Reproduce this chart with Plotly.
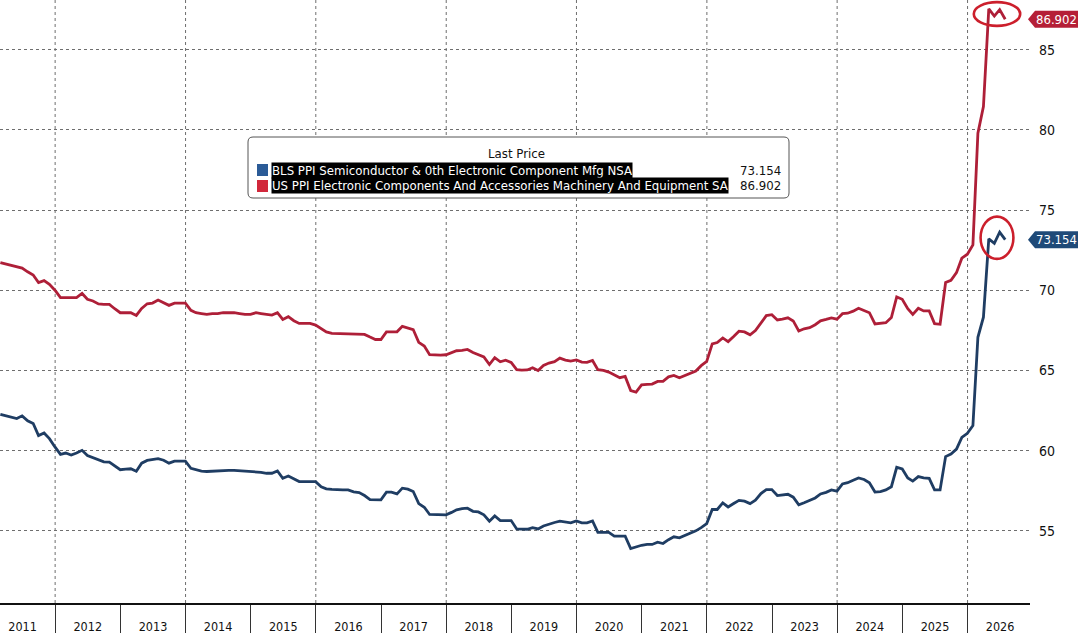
import pandas as pd
import plotly.graph_objects as go

# ---------------- data ----------------
dates = pd.date_range("2011-02-28", periods=186, freq=pd.offsets.MonthEnd())

semis = [
    62.26, 62.17, 62.08, 62.0, 62.17, 61.86, 61.69, 60.94, 61.1, 60.75,
    60.23, 59.77, 59.85, 59.73, 59.85, 60.02, 59.7, 59.55, 59.4, 59.3,
    59.29, 59.05, 58.81, 58.85, 58.87, 58.72, 59.22, 59.39, 59.45, 59.5,
    59.4, 59.22, 59.35, 59.35, 59.35, 58.9, 58.8, 58.72, 58.7, 58.72,
    58.77, 58.77, 58.77, 58.77, 58.75, 58.7, 58.68, 58.66, 58.65, 58.59,
    58.59, 58.73, 58.28, 58.42, 58.24, 58.07, 58.07, 58.07, 58.07, 57.75,
    57.62, 57.58, 57.55, 57.55, 57.55, 57.43, 57.39, 57.2, 56.95, 56.93,
    56.93, 57.41, 57.41, 57.3, 57.66, 57.6, 57.45, 56.7, 56.47, 56.02,
    56.0, 56.0, 56.0, 56.15, 56.31, 56.38, 56.41, 56.22, 56.18, 56.0,
    55.6, 55.93, 55.64, 55.64, 55.64, 55.12, 55.1, 55.1, 55.2, 55.12,
    55.3, 55.42, 55.52, 55.6, 55.55, 55.5, 55.62, 55.5, 55.5, 55.62,
    54.9, 54.9, 54.9, 54.67, 54.67, 54.67, 53.9, 54.0, 54.1, 54.15,
    54.15, 54.29, 54.21, 54.45, 54.63, 54.56, 54.7, 54.83, 55.0, 55.2,
    55.45, 56.33, 56.33, 56.74, 56.49, 56.7, 56.9, 56.85, 56.7, 56.91,
    57.32, 57.57, 57.57, 57.2, 57.25, 57.28, 57.1, 56.62, 56.75, 56.9,
    57.05, 57.3, 57.4, 57.55, 57.47, 57.92, 58.0, 58.15, 58.3, 58.2,
    58.0, 57.42, 57.45, 57.55, 57.75, 58.96, 58.86, 58.3, 58.1, 58.38,
    58.3, 58.27, 57.55, 57.55, 59.63, 59.79, 60.1, 60.83, 61.08, 61.56,
    67.07, 68.32, 73.2, 72.93, 73.62, 73.154,
]

components = [
    71.73, 71.65, 71.55, 71.45, 71.38, 71.15, 70.95, 70.48, 70.6, 70.37,
    70.0, 69.54, 69.54, 69.54, 69.54, 69.8, 69.44, 69.33, 69.15, 69.12,
    69.12, 68.85, 68.6, 68.6, 68.6, 68.43, 68.87, 69.16, 69.2, 69.39,
    69.2, 69.06, 69.2, 69.2, 69.2, 68.75, 68.6, 68.55, 68.5, 68.55,
    68.55, 68.6, 68.6, 68.6, 68.55, 68.5, 68.5, 68.6, 68.55, 68.5,
    68.45, 68.6, 68.18, 68.35, 68.1, 67.93, 67.93, 67.93, 67.83, 67.6,
    67.4, 67.31, 67.3, 67.27, 67.25, 67.25, 67.25, 67.25, 67.08, 66.93,
    66.93, 67.41, 67.41, 67.41, 67.75, 67.65, 67.55, 66.75, 66.52, 65.98,
    65.96, 65.96, 65.98, 66.1, 66.23, 66.25, 66.31, 66.12, 66.0, 65.85,
    65.37, 65.8, 65.54, 65.64, 65.5, 65.05, 65.02, 65.03, 65.17, 65.0,
    65.31, 65.46, 65.55, 65.77, 65.65, 65.58, 65.66, 65.52, 65.5, 65.62,
    65.05, 65.0, 64.9, 64.72, 64.55, 64.63, 63.75, 63.65, 64.1, 64.13,
    64.15, 64.32, 64.32, 64.6, 64.69, 64.55, 64.7, 64.85, 64.96, 65.3,
    65.56, 66.66, 66.74, 67.03, 66.8, 67.12, 67.45, 67.4, 67.22, 67.49,
    68.0, 68.42, 68.48, 68.15, 68.2, 68.28, 68.09, 67.46, 67.6, 67.67,
    67.85, 68.09, 68.18, 68.28, 68.2, 68.54, 68.57, 68.7, 68.88, 68.75,
    68.6, 67.9, 67.93, 67.98, 68.3, 69.58, 69.44, 68.85, 68.5, 68.88,
    68.71, 68.71, 67.92, 67.88, 70.48, 70.62, 71.1, 72.0, 72.25, 72.83,
    79.8, 81.45, 87.55, 87.1, 87.5, 86.902,
]

series_names = [
    "BLS PPI Semiconductor & 0th Electronic Component Mfg NSA",
    "US PPI Electronic Components And Accessories Machinery And Equipment SA",
]
legend_title = "Last Price"
y_ticks = [55, 60, 65, 70, 75, 80, 85]

# ---------------- style ----------------
BLUE = "#1f3d63"
RED = "#ae1f38"
BLUE_SQ = "#2b5b97"
RED_SQ = "#d1283b"
BLUE_TAG = "#1f4a78"
RED_TAG = "#b51f37"
CIRCLE = "#cc1f2c"
FONT = "DejaVu Sans Condensed, Liberation Sans Narrow, Liberation Sans, sans-serif"

W, H = 1078, 633
ML, MR, MT, MB = 0, 48, 0, 30
PW, PH = W - ML - MR, H - MT - MB


def px(x):
    return (x - ML) / PW


def py(y):
    return 1 - (y - MT) / PH


fig = go.Figure()
fig.add_trace(go.Scatter(x=dates, y=components, mode="lines",
                         line=dict(color=RED, width=2.8), showlegend=False,
                         name=series_names[1]))
fig.add_trace(go.Scatter(x=dates, y=semis, mode="lines",
                         line=dict(color=BLUE, width=2.8), showlegend=False,
                         name=series_names[0]))

shapes = []
annotations = []

# vertical dotted gridlines every other year
for yr in range(2012, 2027, 2):
    shapes.append(dict(type="line", xref="x", yref="paper",
                       x0=f"{yr}-01-01", x1=f"{yr}-01-01", y0=0, y1=1,
                       line=dict(color="#6e6e6e", width=1, dash="dot"),
                       layer="below"))

# last-value tags on right
for vals, col in ((components, RED_TAG), (semis, BLUE_TAG)):
    last = vals[-1]
    shapes.append(dict(type="path", xref="paper", yref="y",
                       xsizemode="pixel", ysizemode="pixel",
                       xanchor=1, yanchor=last,
                       path="M -2,0 L 5,8.5 L 50,8.5 L 50,-8.5 L 5,-8.5 Z",
                       fillcolor=col, line=dict(width=0)))
    annotations.append(dict(xref="paper", yref="y", x=1, y=last,
                            xanchor="left", yanchor="middle", xshift=4,
                            text=f"{last:.3f}", showarrow=False,
                            font=dict(family=FONT, size=13, color="white")))

# red ellipses around the last four points of each series
for vals in (components, semis):
    tail_d = dates[-4:]
    tail_v = vals[-4:]
    cx = tail_d[0] + (tail_d[-1] - tail_d[0]) / 2
    cy = (max(tail_v) + min(tail_v)) / 2
    if vals is components:
        hw, hh = pd.Timedelta(days=130), 0.74
    else:
        hw, hh = pd.Timedelta(days=92), 1.32
    shapes.append(dict(type="circle", xref="x", yref="y",
                       x0=cx - hw, x1=cx + hw, y0=cy - hh, y1=cy + hh,
                       line=dict(color=CIRCLE, width=2.6)))

# legend box (rounded corners)
bx0, bx1, by0, by1 = px(248), px(789), py(198), py(137)
rx, ry_ = 5 / PW, 5 / PH
box_path = (
    f"M {bx0 + rx},{by0} L {bx1 - rx},{by0} Q {bx1},{by0} {bx1},{by0 + ry_} "
    f"L {bx1},{by1 - ry_} Q {bx1},{by1} {bx1 - rx},{by1} "
    f"L {bx0 + rx},{by1} Q {bx0},{by1} {bx0},{by1 - ry_} "
    f"L {bx0},{by0 + ry_} Q {bx0},{by0} {bx0 + rx},{by0} Z"
)
shapes.append(dict(type="path", xref="paper", yref="paper", path=box_path,
                   fillcolor="white", line=dict(color="#555555", width=1)))
annotations.append(dict(xref="paper", yref="paper", x=px(516), y=py(154),
                        text=legend_title, showarrow=False,
                        xanchor="center", yanchor="middle",
                        font=dict(family=FONT, size=13.1, color="#111111")))
rows_y = [170, 186]
sq_cols = [BLUE_SQ, RED_SQ]
last_vals = [semis[-1], components[-1]]
for ry, name, sc, lv in zip(rows_y, series_names, sq_cols, last_vals):
    shapes.append(dict(type="rect", xref="paper", yref="paper",
                       x0=px(257), x1=px(268), y0=py(ry + 6), y1=py(ry - 6),
                       fillcolor=sc, line=dict(width=0)))
    annotations.append(dict(xref="paper", yref="paper", x=px(271), y=py(ry),
                            text=name, showarrow=False, xanchor="left",
                            yanchor="middle", bgcolor="black", borderpad=0,
                            font=dict(family=FONT, size=13.1, color="white")))
    annotations.append(dict(xref="paper", yref="paper", x=px(783), y=py(ry),
                            text=f"{lv:.3f}", showarrow=False, xanchor="right",
                            yanchor="middle",
                            font=dict(family=FONT, size=13.1, color="#111111")))

fig.update_layout(
    width=W, height=H,
    margin=dict(l=ML, r=MR, t=MT, b=MB, autoexpand=False),
    paper_bgcolor="white", plot_bgcolor="white",
    shapes=shapes, annotations=annotations,
    xaxis=dict(
        range=["2011-02-26", "2026-12-17"],
        showgrid=False, zeroline=False,
        showline=True, linecolor="#111111", linewidth=1.5,
        ticks="outside", ticklen=30, tickcolor="#333333", tickwidth=1,
        dtick="M12", tick0="2011-01-01", tickformat="%Y",
        ticklabelmode="period", ticklabelstandoff=-19,
        tickfont=dict(family=FONT, size=12.5, color="#111111"),
    ),
    yaxis=dict(
        side="right", range=[50.5, 88.1],
        tickvals=y_ticks, ticks="", showline=False, zeroline=False,
        showgrid=True, gridcolor="#6e6e6e", griddash="dot", gridwidth=1,
        ticklabelstandoff=8,
        tickfont=dict(family=FONT, size=14, color="#111111"),
    ),
)

fig.write_html(
    "out.html",
    config={"displayModeBar": False},
    post_script="document.body.style.margin='0';document.body.style.overflow='hidden';",
)
